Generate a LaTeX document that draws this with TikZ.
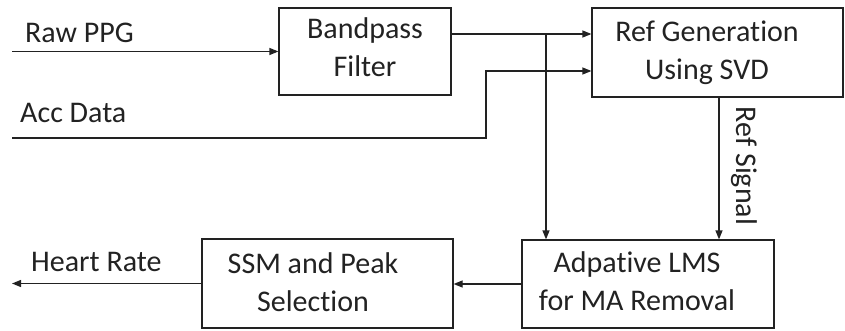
\documentclass[tikz,border=0pt]{standalone}
\usepackage{fontspec}
\setmainfont{Carlito}[Ligatures={NoCommon,NoRequired,NoContextual}]
\usetikzlibrary{arrows.meta}
\definecolor{ink}{HTML}{222222}
\tikzset{
  blk/.style={draw=ink, line width=1.2pt, inner sep=0pt},
  txt/.style={text=ink, font=\fontsize{30}{38}\selectfont, inner sep=0pt, align=center},
  arr/.style={draw=ink, line width=1.2pt, -{Triangle[length=9pt,width=7pt]}},
  ln/.style={draw=ink, line width=1.2pt}
}
\begin{document}
\begin{tikzpicture}[x=1pt,y=-1pt]
\useasboundingbox (0,0) rectangle (845,331);
% boxes
\node[blk, minimum width=172pt, minimum height=87pt] (bp) at (365,51.5) {};
\node[blk, minimum width=251pt, minimum height=89pt] (ref) at (717.5,52.5) {};
\node[blk, minimum width=252pt, minimum height=88pt] (lms) at (648,284) {};
\node[blk, minimum width=251pt, minimum height=89pt] (ssm) at (327.5,283.5) {};
% box texts
\node[txt] (bpt) at (365,50.4) {\strut Bandpass\\\strut Filter};
\node[txt] (reft) at (707,53.4) {\strut Ref Generation\\\strut Using SVD};
\node[txt] (lmst) at (637,283.9) {\strut Adpative LMS\\\strut for MA Removal};
\node[txt] (ssmt) at (313,284.4) {\strut SSM and Peak\\\strut Selection};
% free labels
\node[txt, anchor=base west] (rawl) at (25,43) {Raw PPG};
\node[txt, anchor=base west] (accl) at (20,123) {Acc Data};
\node[txt, anchor=base west] (hrl) at (31,271) {Heart Rate};
\node[txt, rotate=-90] (refsig) at (744,166) {Ref Signal};
% coordinates
\coordinate (rawin) at (12,51.5);
\coordinate (accin) at (12,138);
\coordinate (accturn) at (486,138);
\coordinate (j) at (546,34);
\coordinate (hrout) at (12,283.5);
% connectors
\draw[arr] (rawin) -- (bp.west);
\draw[arr] ([yshift=17.5pt]bp.east) -- ([yshift=17.5pt]bp.east -| ref.west);
\draw[arr] (j) -- (j |- lms.north);
\draw[arr] (accin) -- (accturn) |- ([yshift=-18.5pt]ref.west);
\draw[arr] ([xshift=1.5pt]ref.south) -- ([xshift=1.5pt]ref.south |- lms.north);
\draw[arr] (lms.west) -- (lms.west -| ssm.east);
\draw[arr] (ssm.west) -- (hrout);
\end{tikzpicture}
\end{document}
